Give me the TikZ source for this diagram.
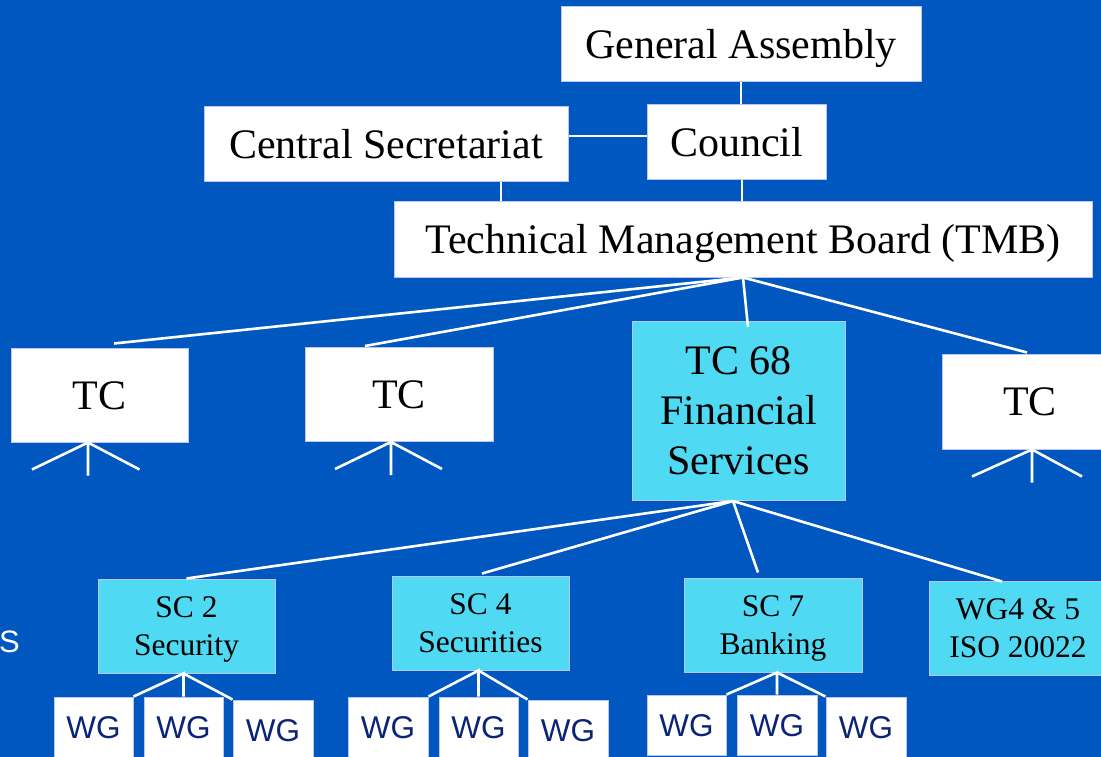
\documentclass[tikz,border=0pt]{standalone}
\usepackage{fontspec}
\setmainfont{Liberation Serif}
\newfontfamily\wgfont{Liberation Sans}
\definecolor{isoblue}{RGB}{0,87,192}
\definecolor{isocyan}{RGB}{79,217,242}
\definecolor{boxedge}{RGB}{185,198,242}
\definecolor{wgnavy}{RGB}{12,36,118}

\begin{document}
\begin{tikzpicture}[x=1pt,y=-1pt,
  box/.style={draw=boxedge,line width=1pt,fill=white,inner sep=0pt,align=center,font=\fontsize{42}{50}\selectfont},
  oneline/.style={text height=28pt,text depth=0pt},
  tcbox/.style={box,oneline,minimum width=177pt,minimum height=94pt},
  scbox/.style={box,fill=isocyan,text depth=0pt,minimum width=177pt,minimum height=94pt,font=\fontsize{31.5}{38}\selectfont},
  wgbox/.style={box,text depth=0pt,minimum width=79pt,minimum height=60pt,font=\wgfont\fontsize{31.5}{38}\selectfont,text=wgnavy},
  link/.style={white,line width=2.6pt}]
\useasboundingbox (0,0) rectangle (1101,757);
\fill[isoblue] (0,0) rectangle (1101,757);
\clip (0,0) rectangle (1101,757);

% top of the organisation
\node[box,oneline,minimum width=360pt,minimum height=75pt] (ga) at (741,44.5) {General Assembly};
\node[box,oneline,minimum width=179pt,minimum height=75pt] (council) at (736.5,142.5) {Council};
\node[box,oneline,minimum width=364pt,minimum height=75pt] (cs) at (386,144.5) {Central Secretariat};
\node[box,oneline,minimum width=698pt,minimum height=75pt] (tmb) at (743,239.5) {Technical Management Board (TMB)};

\draw[link] (ga.south) -- (ga.south |- council.north);
\draw[link] ([yshift=8.5pt]cs.east) coordinate (csr) -- (csr -| council.west);
\draw[link] ([xshift=115pt]cs.south) coordinate (csb) -- (csb |- tmb.north);
\draw[link] ([xshift=5.5pt]council.south) coordinate (cob) -- (cob |- tmb.north);

% technical committees
\node[tcbox] (tc1) at (99.5,395) {TC};
\node[tcbox,minimum width=188pt] (tc2) at (399,394.5) {TC};
\node[box,fill=isocyan,text depth=0pt,minimum width=213pt,minimum height=179pt] (tc68) at (738.5,411) {TC 68\\Financial\\Services};
\node[tcbox,minimum width=176pt,minimum height=95pt] (tc4) at (1030,401.5) {TC};

\draw[link] (tmb.south) -- ([xshift=14.5pt,yshift=4pt]tc1.north);
\draw[link] (tmb.south) -- ([xshift=-34pt,yshift=1pt]tc2.north);
\draw[link] (tmb.south) -- ([xshift=9.5pt,yshift=-6pt]tc68.north);
\draw[link] (tmb.south) -- ([xshift=-3pt,yshift=1pt]tc4.north);

\draw[link] ([xshift=-11.5pt]tc1.south) coordinate (t1) -- ++(-56,27) (t1) -- ++(0,33) (t1) -- ++(51.5,27);
\draw[link] ([xshift=-8pt]tc2.south) coordinate (t2) -- ++(-56,27) (t2) -- ++(0,33) (t2) -- ++(51,27);
\draw[link] ([xshift=2pt]tc4.south) coordinate (t4) -- ++(-60,27) (t4) -- ++(0,33) (t4) -- ++(50,27);

% sub-committees of TC 68
\node[scbox] (sc2) at (186.5,626) {SC 2\\Security};
\node[scbox] (sc4) at (480.5,623) {SC 4\\Securities};
\node[scbox,minimum width=178pt] (sc7) at (773,625) {SC 7\\Banking};
\node[scbox,minimum width=178pt] (wg45) at (1018,628) {WG4 \& 5\\ISO 20022};

\draw[link] ([xshift=-5.5pt]tc68.south) coordinate (tcb) -- (sc2.north);
\draw[link] (tcb) -- ([xshift=1.5pt,yshift=2pt]sc4.north);
\draw[link] (tcb) -- ([xshift=-15pt,yshift=5pt]sc7.north);
\draw[link] (tcb) -- ([xshift=-16pt,yshift=-1pt]wg45.north);

% working groups
\node[wgbox] (wg21) at (93.5,727) {WG};
\node[wgbox] (wg22) at (183.5,727) {WG};
\node[wgbox,minimum width=80pt] (wg23) at (273,730) {WG};
\node[wgbox,minimum width=80pt] (wg41) at (388,727) {WG};
\node[wgbox] (wg42) at (478.5,727) {WG};
\node[wgbox,minimum width=80pt] (wg43) at (568,730) {WG};
\node[wgbox] (wg71) at (686.5,725) {WG};
\node[wgbox,minimum width=80pt] (wg72) at (777,725) {WG};
\node[wgbox,minimum width=80pt] (wg73) at (866,727) {WG};

\draw[link] (wg22.north) -- (wg22.north |- sc2.south) coordinate (a2) -- (wg21.north east) (a2) -- (wg23.north west);
\draw[link] (wg42.north) -- (wg42.north |- sc4.south) coordinate (a4) -- (wg41.north east) (a4) -- (wg43.north west);
\draw[link] (wg72.north) -- (wg72.north |- sc7.south) coordinate (a7) -- (wg71.north east) (a7) -- (wg73.north west);

\node[anchor=west,inner sep=0pt,text depth=0pt,text=white,font=\wgfont\fontsize{31}{36}\selectfont] (frag) at (-1,642) {S};
\end{tikzpicture}
\end{document}
